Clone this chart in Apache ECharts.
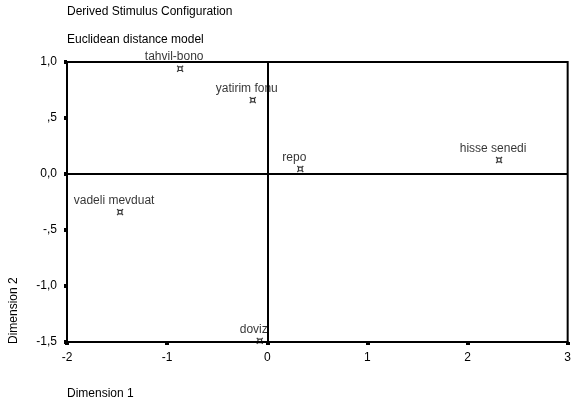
<!DOCTYPE html>
<html><head><meta charset="utf-8">
<script src="https://cdn.jsdelivr.net/npm/echarts@6/dist/echarts.min.js"></script>
<style>html,body{margin:0;padding:0;background:#fff}#c{width:574px;height:409px}</style>
</head><body><div id="c"></div>
<script>
const names = ["tahvil-bono","yatirim fonu","repo","hisse senedi","vadeli mevduat","doviz"];
const dim1 = [-0.87, -0.145, 0.33, 2.315, -1.47, -0.075];
const dim2 = [0.94, 0.66, 0.045, 0.125, -0.34, -1.49];
const xTicks = [-2,-1,0,1,2,3];
const yTickLabels = {"1":"1,0","0.5":",5","0":"0,0","-0.5":"-,5","-1":"-1,0","-1.5":"-1,5"};

const font = '"Liberation Sans", Arial, sans-serif';
const ts = {fontFamily:font,fontSize:12,fontWeight:'normal',color:'#000'};
const chart = echarts.init(document.getElementById('c'));
chart.setOption({
  animation:false,
  backgroundColor:'#fff',
  title:[
    {text:'Derived Stimulus Configuration', left:62, top:1, textStyle:ts},
    {text:'Euclidean distance model', left:62, top:29, textStyle:ts},
    {text:'Dimension 1', left:62, top:383, textStyle:ts}
  ],
  graphic:[{type:'text', x:8, y:344, rotation:Math.PI/2,
    style:{text:'Dimension 2', fill:'#000', font:'12px "Liberation Sans", Arial, sans-serif', textAlign:'left', textVerticalAlign:'top'}}],
  grid:{left:67, right:3, top:62, bottom:67, show:true, borderColor:'#000', borderWidth:2, backgroundColor:'transparent'},
  xAxis:{type:'value', min:-2, max:3, interval:1,
    axisLine:{show:true, onZero:false, lineStyle:{color:'#000',width:2}},
    axisTick:{show:true, length:3, lineStyle:{color:'#000',width:4}},
    splitLine:{show:false},
    axisLabel:{color:'#000', fontFamily:font, fontSize:12, margin:10, formatter:v=>String(v)}
  },
  yAxis:{type:'value', min:-1.5, max:1, interval:0.5,
    axisLine:{show:true, onZero:false, lineStyle:{color:'#000',width:2}},
    axisTick:{show:true, length:3, lineStyle:{color:'#000',width:4}},
    splitLine:{show:false},
    axisLabel:{color:'#000', fontFamily:font, fontSize:12, margin:10, formatter:v=>yTickLabels[String(v)]}
  },
  series:[{
    type:'scatter',
    data:names.map((n,i)=>({name:n, value:[dim1[i],dim2[i]]})),
    symbol:'path://M2,2 L8,2 L8,8 L2,8 Z M0,0 L2,2 M10,0 L8,2 M0,10 L2,8 M10,10 L8,8',
    symbolSize:6,
    itemStyle:{color:'transparent', borderColor:'#000', borderWidth:1.2},
    label:{show:true, position:'top', distance:2, offset:[-6,0], formatter:p=>p.name, color:'#000', fontFamily:font, fontSize:12},
    markLine:{silent:true, symbol:'none', label:{show:false},
      lineStyle:{color:'#000', width:2, type:'solid'},
      data:[{xAxis:0},{yAxis:0}]}
  }]
});
</script></body></html>
